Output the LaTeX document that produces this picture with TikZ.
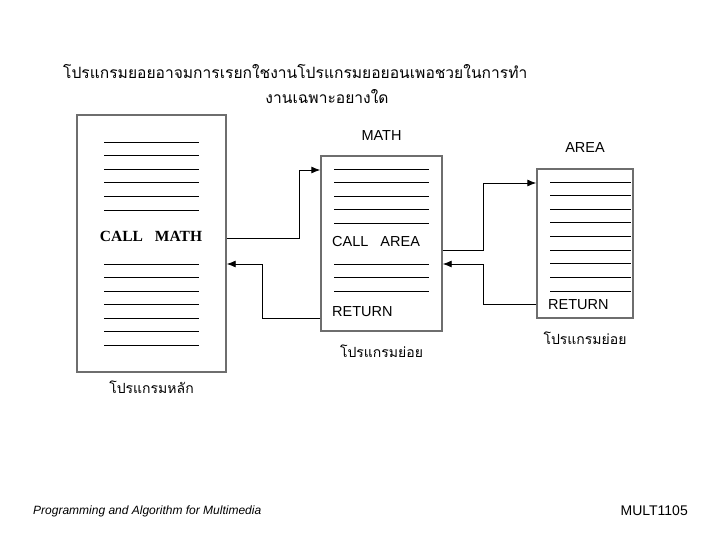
\documentclass[tikz,border=0pt]{standalone}
\usepackage{fontspec}
\setmainfont{Liberation Serif}
\setsansfont{Liberation Sans}
\newfontfamily\thaifont[Script=Thai]{Loma}
\usepackage{xcolor}
\usepackage{tikz}
\usetikzlibrary{positioning,arrows.meta}

\definecolor{frame}{RGB}{110,110,110}

\begin{document}
\begin{tikzpicture}[
  x=1pt, y=-1pt,
  page/.style={draw=frame, line width=1.4pt, rectangle, inner sep=0pt},
  rule/.style={line width=0.9pt},
  arrow/.style={-{Latex[length=9pt,width=7pt]}, line width=0.9pt},
  word/.style={font=\sffamily\fontsize{14.5}{16}\selectfont, inner sep=0pt},
  thai/.style={font=\thaifont\fontsize{15.6}{18}\selectfont, inner sep=0pt},
  tag/.style={font=\thaifont\fontsize{14}{16}\selectfont, inner sep=0pt}
]
\useasboundingbox (0,0) rectangle (720,540);

% title
\node[thai, anchor=west] (title1) at (63,72) {โปรแกรมยอยอาจมการเรยกใชงานโปรแกรมยอยอนเพอชวยในการทำ};
\node[thai] (title2) at (327,97) {งานเฉพาะอยางใด};

% the three programs
\node[page, minimum width=149, minimum height=257] (main) at (151.5,243.5) {};
\node[page, minimum width=121, minimum height=175] (math) at (381.5,243.5) {};
\node[page, minimum width=96, minimum height=149] (area) at (585,243.5) {};

% lines in main
\foreach \y in {142,155.6,169.2,182.8,196.4,210}
  \draw[rule] (104,\y) -- (199,\y);
\foreach \y in {264,277.5,291,304.5,318,331.5,345}
  \draw[rule] (104,\y) -- (199,\y);
\node[font=\bfseries\fontsize{15.5}{17}\selectfont, inner sep=0pt] (callmath) at (151,236) {CALL\hspace{12pt}MATH};
\node[tag, below=8pt of main] (mainlbl) {โปรแกรมหลัก};

% lines in math
\foreach \y in {169,182.5,196,209.5,223,264,277.5,291}
  \draw[rule] (334,\y) -- (429,\y);
\node[word, above=15pt of math] (mathname) {MATH};
\node[word, anchor=west] (callarea) at (332,242) {CALL\hspace{12pt}AREA};
\node[word, anchor=west] (mathret) at (332,312) {RETURN};
\node[tag, below=13pt of math] (mathlbl) {โปรแกรมย่อย};

% lines in area
\foreach \y in {182,195.6,209.2,222.8,236.4,250,263.6,277.2,291}
  \draw[rule] (550,\y) -- (631,\y);
\node[word, above=16pt of area] (areaname) {AREA};
\node[word, anchor=west] (arearet) at (548,305) {RETURN};
\node[tag, below=13pt of area] (arealbl) {โปรแกรมย่อย};

% calls and returns
\draw[arrow] (main.east |- 0,238) -- (299,238) |- (math.west |- 0,170);
\draw[arrow] (math.west |- 0,318) -- (262,318) |- (main.east |- 0,264);
\draw[arrow] (math.east |- 0,250) -- (483,250) |- (area.west |- 0,183);
\draw[arrow] (area.west |- 0,304) -- (483,304) |- (math.east |- 0,264);

% footer
\node[font=\sffamily\itshape\fontsize{12}{14}\selectfont, anchor=west, inner sep=0pt] (course) at (33,511) {Programming and Algorithm for Multimedia};
\node[font=\sffamily\fontsize{14}{16}\selectfont, anchor=east, inner sep=0pt] (code) at (688,511) {MULT1105};
\end{tikzpicture}
\end{document}
